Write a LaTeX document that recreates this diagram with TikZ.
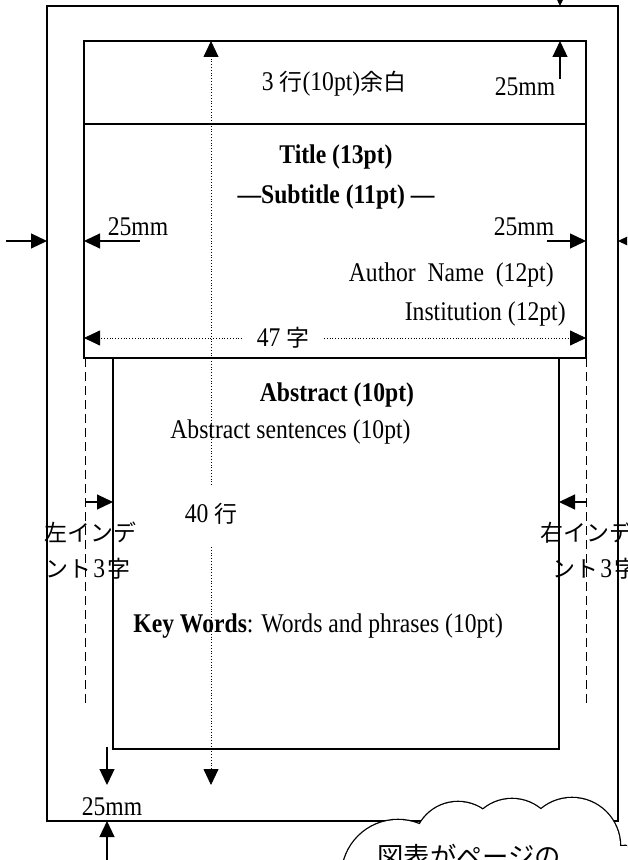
\documentclass[tikz,border=0pt]{standalone}
\usepackage{fontspec}
\setmainfont{Liberation Serif}[FakeStretch=0.875]
\newfontfamily\jp{Noto Sans CJK JP}[Scale=0.85]
\usetikzlibrary{arrows.meta}

\begin{document}
\begin{tikzpicture}[x=0.5pt,y=-0.5pt,
  font=\fontsize{13.5}{16}\selectfont,
  every node/.style={inner sep=0pt},
  dimarrow/.style={line width=0.6pt,-{Triangle[length=8pt,width=7.5pt]}},
  guideline/.style={line width=0.4pt,densely dotted,-{Triangle[length=8pt,width=7.5pt]}},
  indentline/.style={line width=0.7pt,dash pattern=on 4.5pt off 2.5pt}]
\useasboundingbox (0,0) rectangle (627,860);
\clip (0,0) rectangle (627,860);

% Page and text area
\draw[line width=0.7pt] (47,6) rectangle (618,821);
\draw[line width=0.7pt] (84,41) rectangle (586,358);
\draw[line width=0.7pt] (84,124) -- (586,124);
\draw[line width=0.7pt] (113,358) rectangle (559,749);
\draw[indentline] (85.5,358) -- (85.5,703);
\draw[indentline] (586.5,358) -- (586.5,703);

% Margins
\draw[dimarrow] (560,-30) -- (560,6);
\draw[dimarrow] (560,79) -- (560,41);
\draw[dimarrow] (6,241) -- (47,241);
\draw[dimarrow] (140,241) -- (84,241);
\draw[dimarrow] (547,241) -- (586,241);
\draw[dimarrow] (660,241) -- (618,241);
\draw[dimarrow] (107,747) -- (107,785);
\draw[dimarrow] (107,875) -- (107,821);
\draw[dimarrow] (86,502) -- (113,502);
\draw[dimarrow] (587,502) -- (559,502);

% 47 chars x 40 lines
\draw[guideline] (242,338) -- (84,338);
\draw[guideline] (324,338) -- (586,338);
\draw[guideline] (211,485) -- (211,41);
\draw[guideline] (211,547) -- (211,785);

% Labels
\node[anchor=base] (toplines) at (334,91) {3 {\jp 行}(10pt){\jp 余白}};
\node[anchor=base] (mmtop) at (525,96) {25mm};
\node[anchor=base,font=\fontsize{13.5}{16}\selectfont\bfseries] (title) at (336,164) {Title (13pt)};
\node[anchor=base,font=\fontsize{13.5}{16}\selectfont\bfseries] (subtitle) at (336,204) {---Subtitle (11pt) ---};
\node[anchor=base] (mmleft) at (138,236) {25mm};
\node[anchor=base] (mmright) at (524,236) {25mm};
\node[anchor=base east] (author) at (554,282) {Author~~Name~~(12pt)};
\node[anchor=base east] (inst) at (566,321) {Institution (12pt)};
\node[anchor=base] (chars) at (283,347) {47 {\jp 字}};
\node[anchor=base,font=\fontsize{13.5}{16}\selectfont\bfseries] (abshead) at (337,401) {Abstract (10pt)};
\node[anchor=base west] (abstext) at (170,438) {Abstract sentences (10pt)};
\node[anchor=base] (lines) at (211,522) {40 {\jp 行}};
\node[anchor=base west] (lindent) at (44,541) {\jp 左インデ};
\node[anchor=base west] (lindentb) at (45,577) {{\jp ント}\hspace{1pt}3\hspace{1pt}{\jp 字}};
\node[anchor=base west] (rindent) at (540,541) {\jp 右インデ};
\node[anchor=base west] (rindentb) at (552,577) {{\jp ント}\hspace{1pt}3\hspace{1pt}{\jp 字}};
\node[anchor=base west] (keywords) at (133,632) {\textbf{Key Words}: Words and phrases (10pt)};
\node[anchor=base] (mmbottom) at (112,815) {25mm};

% Note cloud
\foreach \cx/\cy/\r in {398/876/56, 458/846/44, 512/844/45, 572/846/48, 625/892/46}
  \draw[line width=1.3pt] (\cx,\cy) circle[radius=\r];
\foreach \cx/\cy/\r in {398/876/56, 458/846/44, 512/844/45, 572/846/48, 625/892/46}
  \fill[white] (\cx,\cy) circle[radius=\r];
\fill[white] (500,900) ellipse[x radius=140,y radius=55];
\node[anchor=base west,font=\fontsize{15.5}{18}\selectfont] (cloudtext) at (377,866) {\jp 図表がページの};
\end{tikzpicture}
\end{document}
